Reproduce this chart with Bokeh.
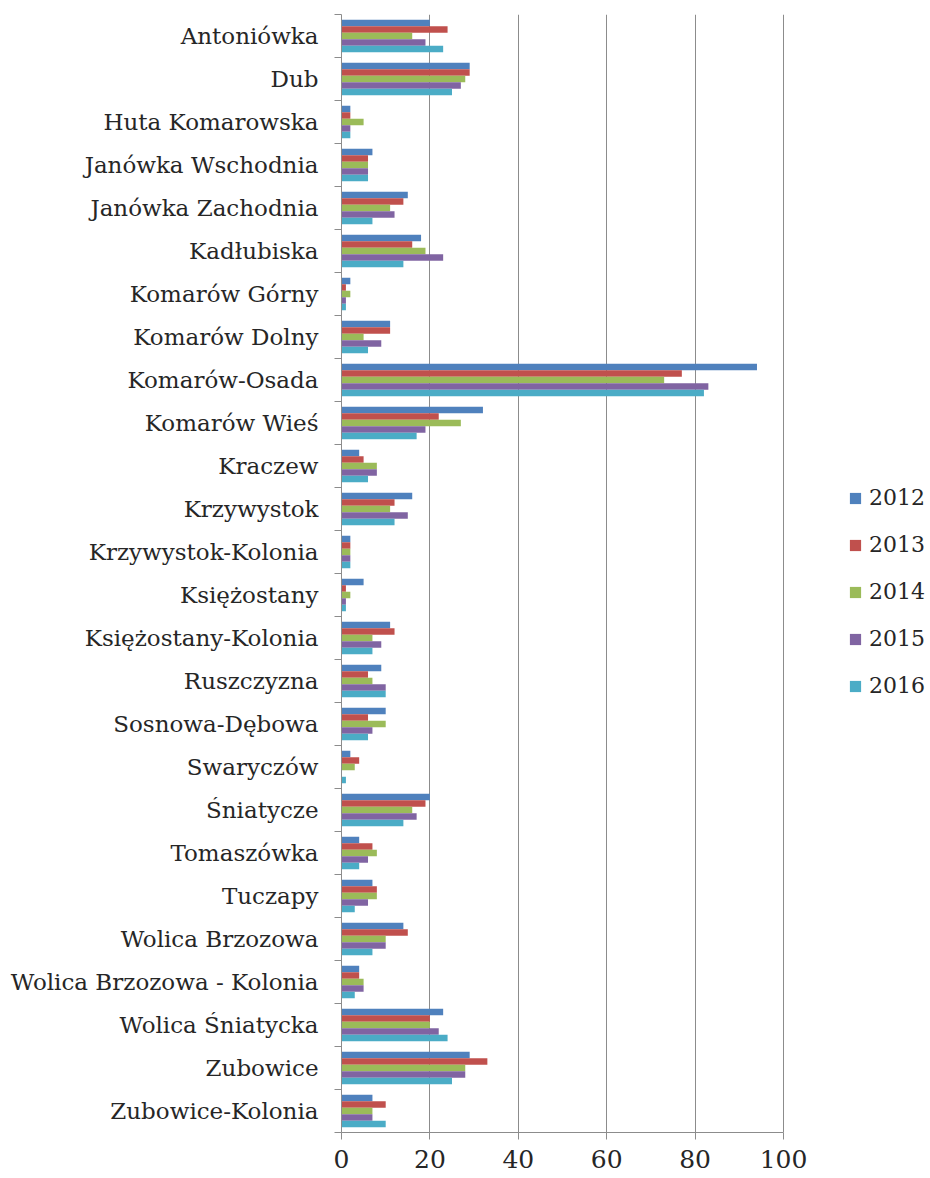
from bokeh.plotting import figure
from bokeh.models import (Range1d, LinearAxis, FixedTicker, Legend, LegendItem, ColumnDataSource)
from bokeh.transform import dodge
from bokeh.embed import file_html
from bokeh.resources import INLINE

categories = ["Antoniówka", "Dub", "Huta Komarowska", "Janówka Wschodnia", "Janówka Zachodnia",
              "Kadłubiska", "Komarów Górny", "Komarów Dolny", "Komarów-Osada", "Komarów Wieś",
              "Kraczew", "Krzywystok", "Krzywystok-Kolonia", "Księżostany", "Księżostany-Kolonia",
              "Ruszczyzna", "Sosnowa-Dębowa", "Swaryczów", "Śniatycze", "Tomaszówka", "Tuczapy",
              "Wolica Brzozowa", "Wolica Brzozowa - Kolonia", "Wolica Śniatycka", "Zubowice",
              "Zubowice-Kolonia"]
years = ["2012", "2013", "2014", "2015", "2016"]
v2012 = [20, 29, 2, 7, 15, 18, 2, 11, 94, 32, 4, 16, 2, 5, 11, 9, 10, 2, 20, 4, 7, 14, 4, 23, 29, 7]
v2013 = [24, 29, 2, 6, 14, 16, 1, 11, 77, 22, 5, 12, 2, 1, 12, 6, 6, 4, 19, 7, 8, 15, 4, 20, 33, 10]
v2014 = [16, 28, 5, 6, 11, 19, 2, 5, 73, 27, 8, 11, 2, 2, 7, 7, 10, 3, 16, 8, 8, 10, 5, 20, 28, 7]
v2015 = [19, 27, 2, 6, 12, 23, 1, 9, 83, 19, 8, 15, 2, 1, 9, 10, 7, 0, 17, 6, 6, 10, 5, 22, 28, 7]
v2016 = [23, 25, 2, 6, 7, 14, 1, 6, 82, 17, 6, 12, 2, 1, 7, 10, 6, 1, 14, 4, 3, 7, 3, 24, 25, 10]
x_ticks = [0, 20, 40, 60, 80, 100]
colors = ["#4F81BD", "#C0504D", "#9BBB59", "#8064A2", "#4BACC6"]

n = len(categories)
# slot centre of each category, first category at the top
ypos = [n - i - 0.5 for i in range(n)]

src = ColumnDataSource(dict(cat=categories, ypos=ypos, y2012=v2012, y2013=v2013, y2014=v2014,
                            y2015=v2015, y2016=v2016))

SERIF = "DejaVu Serif"
TXT = "#262626"
GRID = "#8c8c8c"

W, H = 930, 1178
LEFT, TOP, BOTTOM = 341, 14, 46
px_per_unit = 4.42
x_end = (W - LEFT) / px_per_unit   # frame extends to the right edge so the legend fits in it

p = figure(width=W, height=H, y_range=Range1d(0, n),
           x_range=Range1d(0, x_end), output_backend="svg", toolbar_location=None,
           y_axis_location=None, min_border_left=LEFT, min_border_right=0,
           min_border_top=TOP, min_border_bottom=BOTTOM)
p.outline_line_color = None

# x axis
xa = p.xaxis[0]
xa.ticker = FixedTicker(ticks=x_ticks)
xa.bounds = (x_ticks[0], x_ticks[-1])
xa.axis_line_color = GRID
xa.major_tick_line_color = GRID
xa.major_tick_out = 7
xa.major_tick_in = 0
xa.minor_tick_line_color = None
xa.major_label_text_font = SERIF
xa.major_label_text_font_size = "25px"
xa.major_label_text_color = TXT
xa.major_label_standoff = 10

p.xgrid.ticker = FixedTicker(ticks=x_ticks[1:])
p.xgrid.grid_line_color = GRID
p.ygrid.grid_line_color = None

# y tick-marks between categories
bounds = list(range(n + 1))
tick_axis = LinearAxis(ticker=FixedTicker(ticks=bounds),
                       major_label_overrides={b: "" for b in bounds},
                       major_label_text_font_size="2px", major_label_standoff=0,
                       major_tick_out=7, major_tick_in=0, minor_tick_line_color=None,
                       axis_line_color=GRID, major_tick_line_color=GRID)
p.add_layout(tick_axis, "left")

overrides = {}
for yv, c in zip(ypos, categories):
    overrides[yv] = c
    overrides[str(yv)] = c
cat_axis = LinearAxis(ticker=FixedTicker(ticks=ypos), major_label_overrides=overrides,
                      axis_line_color=None, major_tick_line_color=None, minor_tick_line_color=None,
                      major_tick_out=0, major_tick_in=0,
                      major_label_text_font=SERIF, major_label_text_font_size="23px",
                      major_label_text_color=TXT, major_label_standoff=16)
p.add_layout(cat_axis, "left")

offsets = [0.302, 0.151, 0.0, -0.151, -0.302]
renderers = []
for yr, off, col in zip(years, offsets, colors):
    r = p.hbar(y=dodge("ypos", off), left=0, right="y" + yr, height=0.151,
               source=src, fill_color=col, line_color=None)
    renderers.append(r)

legend = Legend(items=[LegendItem(label=yr, renderers=[r]) for yr, r in zip(years, renderers)],
                location=(507, 432), orientation="vertical",
                label_text_font=SERIF, label_text_font_size="22px", label_text_color=TXT,
                glyph_width=14, glyph_height=14, label_height=29, spacing=18,
                label_standoff=7, padding=0, margin=0,
                border_line_color=None, background_fill_alpha=0)
p.add_layout(legend, "center")

open("out.html", "w").write(file_html(p, INLINE))
